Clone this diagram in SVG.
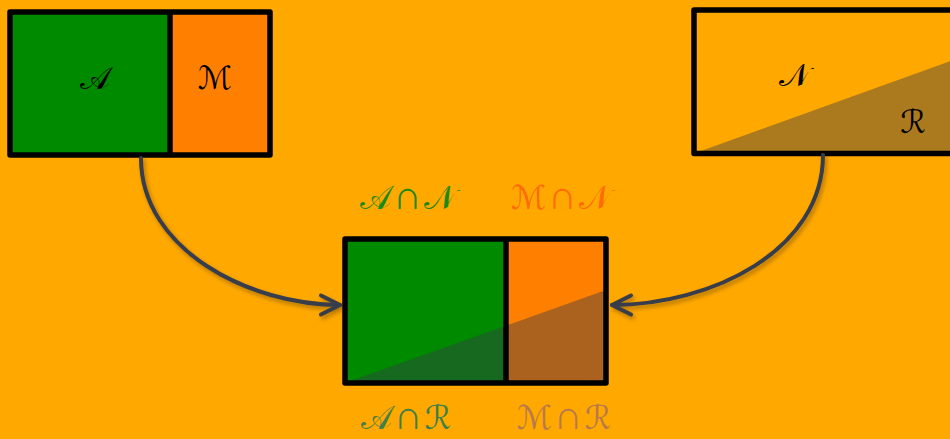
<svg xmlns="http://www.w3.org/2000/svg" width="950" height="439" viewBox="0 0 950 439">
  <style>
    .frame { fill: none; stroke: #000; stroke-width: 5.5; stroke-linejoin: round; }
    .div { stroke: #000; stroke-width: 5.5; }
    .green { fill: #008a00; }
    .orange { fill: #ff7f00; }
    .shade { fill: rgba(56,60,74,0.42); }
    .cal { font-family: "DejaVu Serif", "DejaVu Sans", "Noto Sans", serif; font-size: 32px; text-anchor: middle; fill: #000; }
    .lbl { font-family: "DejaVu Serif", "DejaVu Sans", "Noto Sans", serif; font-size: 33px; text-anchor: middle; }
    .cap { font-family: "DejaVu Sans", "Noto Sans", sans-serif; font-weight: 200; font-size: 40px; }
    .conn { fill: none; stroke: #393c4b; stroke-width: 4; stroke-linecap: round; }
  </style>
  <defs>
    <filter id="soft" x="-20%" y="-20%" width="140%" height="140%">
      <feDropShadow dx="2" dy="3" stdDeviation="2" flood-color="#000" flood-opacity="0.3"/>
    </filter>
    <marker id="arrow" markerUnits="userSpaceOnUse" markerWidth="30" markerHeight="30" refX="22" refY="12" orient="auto" overflow="visible">
      <path d="M3,2.5 L22,12 L3,21.5" fill="none" stroke="#393c4b" stroke-width="4" stroke-linecap="round" stroke-linejoin="round"/>
    </marker>
  </defs>

  <rect width="950" height="439" fill="#ffa800"/>

  <!-- source set A | M -->
  <g id="set-am">
    <rect class="green" x="10" y="12" width="160" height="143"/>
    <rect class="orange" x="170" y="12" width="100" height="143"/>
    <line class="div" x1="170" y1="12" x2="170" y2="155"/>
    <rect class="frame" x="10" y="12" width="260" height="143"/>
    <text class="cal" x="95" y="89">𝒜</text>
    <text class="cal" x="215" y="89">ℳ</text>
  </g>

  <!-- source set N with R region -->
  <g id="set-nr">
    <rect x="694" y="10" width="262" height="143.5" fill="#ffa800"/>
    <polygon class="shade" points="694,153.5 956,59 956,153.5"/>
    <rect class="frame" x="694" y="10" width="262" height="143.5"/>
    <text class="cal" x="794" y="86">𝒩</text>
    <text class="cal" x="913" y="133">ℛ</text>
  </g>

  <!-- intersection result -->
  <g id="result">
    <rect class="green" x="345" y="239" width="161" height="144"/>
    <rect class="orange" x="506" y="239" width="100" height="144"/>
    <polygon class="shade" points="345,383 606,290 606,383"/>
    <line class="div" x1="506" y1="239" x2="506" y2="383"/>
    <rect class="frame" x="345" y="239" width="261" height="144"/>
  </g>

  <g id="labels">
    <text class="lbl" x="408" y="209" fill="#1a8a1a">𝒜<tspan class="cap" dx="2">∩</tspan><tspan dx="2">𝒩</tspan></text>
    <text class="lbl" x="561" y="209" fill="#ff6a0a">ℳ<tspan class="cap" dx="2">∩</tspan><tspan dx="2">𝒩</tspan></text>
    <text class="lbl" x="406" y="429" fill="#3f7f4a">𝒜<tspan class="cap" dx="2">∩</tspan><tspan dx="2">ℛ</tspan></text>
    <text class="lbl" x="564" y="429" fill="#b87a4c">ℳ<tspan class="cap" dx="2">∩</tspan><tspan dx="2">ℛ</tspan></text>
  </g>

  <g id="connectors" filter="url(#soft)">
    <path class="conn" d="M141,158 C141,250 250,305 340,305" marker-end="url(#arrow)"/>
    <path class="conn" d="M823,155 C823,250 712,305 612,305" marker-end="url(#arrow)"/>
  </g>
</svg>
